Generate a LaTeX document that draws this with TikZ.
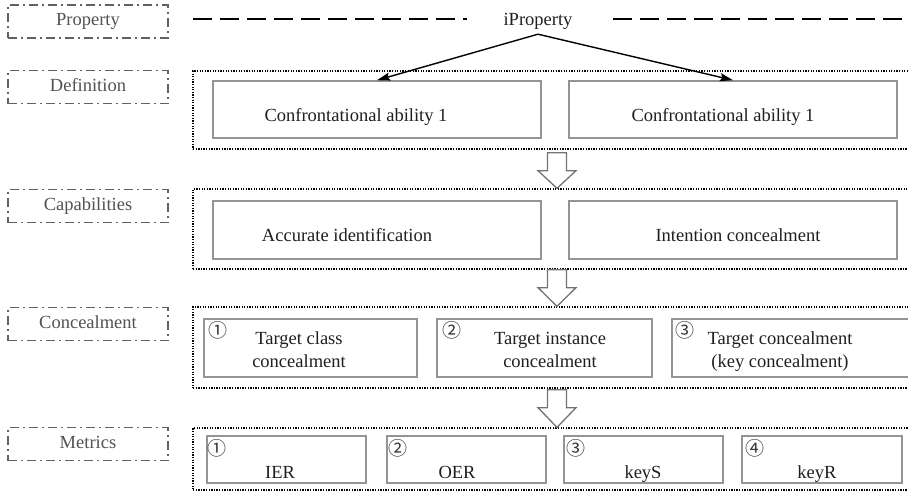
\documentclass[tikz,border=0pt]{standalone}
\usepackage{fontspec}
\setmainfont{Liberation Serif}
\newfontfamily\cnum{Noto Sans CJK SC}
\usetikzlibrary{arrows.meta,calc}
\tikzset{
  lbl/.style={draw=black!62, line width=1.2pt, dash pattern=on 9pt off 4pt on 2pt off 4pt,
    minimum width=160pt, minimum height=33pt, inner sep=0pt, text=black!68,
    font=\fontsize{18.5}{22}\selectfont, text height=12.5pt, text depth=4pt},
  cont/.style={draw=black, line width=1.3pt, dash pattern=on 1.3pt off 1.3pt},
  ibox/.style={draw=black!42, line width=1.6pt},
  txt/.style={font=\fontsize{18.5}{23.5}\selectfont, text=black!88, inner sep=0pt, anchor=base, align=center},
  circ/.style={font=\cnum\fontsize{19}{19}\selectfont, text=black!80, inner sep=0pt, anchor=center},
  hollow/.style={draw=black!55, fill=white, line width=1.3pt, line join=miter},
  dline/.style={draw=black, line width=1.8pt, dash pattern=on 19pt off 8pt},
  parrow/.style={draw=black, line width=1.4pt, -{Stealth[length=13pt,width=8pt,inset=2pt]}}
}
\begin{document}
\begin{tikzpicture}[x=1pt,y=-1pt]
\useasboundingbox (0,0) rectangle (908,496);
\clip (0,0) rectangle (908,496);
% left labels
\node[lbl] (lprop) at (88,21.5) {Property};
\node[lbl] (ldef) at (88,87) {Definition};
\node[lbl] (lcap) at (88,206) {Capabilities};
\node[lbl] (lcon) at (88,324) {Concealment};
\node[lbl] (lmet) at (88,444) {Metrics};
% containers
\node[cont, minimum width=728pt, minimum height=78pt] (defc) at (557,110) {};
\node[cont, minimum width=728pt, minimum height=80pt] (capc) at (557,229) {};
\node[cont, minimum width=728pt, minimum height=81pt] (conc) at (557,347.5) {};
\node[cont, minimum width=728pt, minimum height=62pt] (metc) at (557,459) {};
% iProperty
\node[txt, inner ysep=5pt] (ip) at (538,25) {iProperty};
\coordinate (dl1) at (193,19);
\coordinate (dl2) at (467,19);
\coordinate (dr1) at (613,19);
\coordinate (dr2) at (915,19);
\draw[dline] (dl1) -- (dl2);
\draw[dline] (dr1) -- (dr2);
% definition boxes
\node[ibox, minimum width=328pt, minimum height=57pt] (defL) at (377,109.5) {};
\node[ibox, minimum width=328pt, minimum height=57pt] (defR) at (733,109.5) {};
\node[txt] (tdefL) at (356,121) {Confrontational ability 1};
\node[txt] (tdefR) at (723,121) {Confrontational ability 1};
\draw[parrow] (ip.south) -- (defL.north);
\draw[parrow] (ip.south) -- (defR.north);
% capabilities boxes
\node[ibox, minimum width=328pt, minimum height=58pt] (capL) at (377,230) {};
\node[ibox, minimum width=328pt, minimum height=58pt] (capR) at (733,230) {};
\node[txt] (tcapL) at (347,241) {Accurate identification};
\node[txt] (tcapR) at (738,241) {Intention concealment};
% concealment boxes
\node[ibox, minimum width=213pt, minimum height=58pt] (con1) at (310.5,348) {};
\node[ibox, minimum width=215pt, minimum height=58pt] (con2) at (544.5,348) {};
\node[ibox, minimum width=243pt, minimum height=58pt] (con3) at (793.5,348) {};
\node[txt] (tcon1) at (299,367.5) {Target class\\concealment};
\node[txt] (tcon2) at (550,367.5) {Target instance\\concealment};
\node[txt] (tcon3) at (780,367.5) {Target concealment\\(key concealment)};
\node[circ] (c1) at (217.5,330) {①};
\node[circ] (c2) at (451.5,330) {②};
\node[circ] (c3) at (685,330) {③};
% metrics boxes
\node[ibox, minimum width=159pt, minimum height=47pt] (met1) at (286.5,459.5) {};
\node[ibox, minimum width=159pt, minimum height=47pt] (met2) at (466.5,459.5) {};
\node[ibox, minimum width=159pt, minimum height=47pt] (met3) at (643.5,459.5) {};
\node[ibox, minimum width=160pt, minimum height=47pt] (met4) at (822,459.5) {};
\node[txt] (tmet1) at (280,478) {IER};
\node[txt] (tmet2) at (457,478) {OER};
\node[txt] (tmet3) at (643,478) {keyS};
\node[txt] (tmet4) at (817,478) {keyR};
\node[circ] (m1) at (217,448) {①};
\node[circ] (m2) at (398,448) {②};
\node[circ] (m3) at (576,448) {③};
\node[circ] (m4) at (755,448) {④};
% hollow arrows between containers
\draw[hollow] ($(defc.south)+(-9.5,3)$) -- ($(defc.south)+(-9.5,21)$) -- ($(defc.south)+(-19,21)$)
  -- (capc.north) -- ($(defc.south)+(19,21)$) -- ($(defc.south)+(9.5,21)$) -- ($(defc.south)+(9.5,3)$) -- cycle;
\draw[hollow] ($(capc.south)+(-9.5,0)$) -- ($(capc.south)+(-9.5,18)$) -- ($(capc.south)+(-19,18)$)
  -- (conc.north) -- ($(capc.south)+(19,18)$) -- ($(capc.south)+(9.5,18)$) -- ($(capc.south)+(9.5,0)$) -- cycle;
\draw[hollow] ($(conc.south)+(-9.5,1)$) -- ($(conc.south)+(-9.5,19)$) -- ($(conc.south)+(-19,19)$)
  -- (metc.north) -- ($(conc.south)+(19,19)$) -- ($(conc.south)+(9.5,19)$) -- ($(conc.south)+(9.5,1)$) -- cycle;
\end{tikzpicture}
\end{document}
